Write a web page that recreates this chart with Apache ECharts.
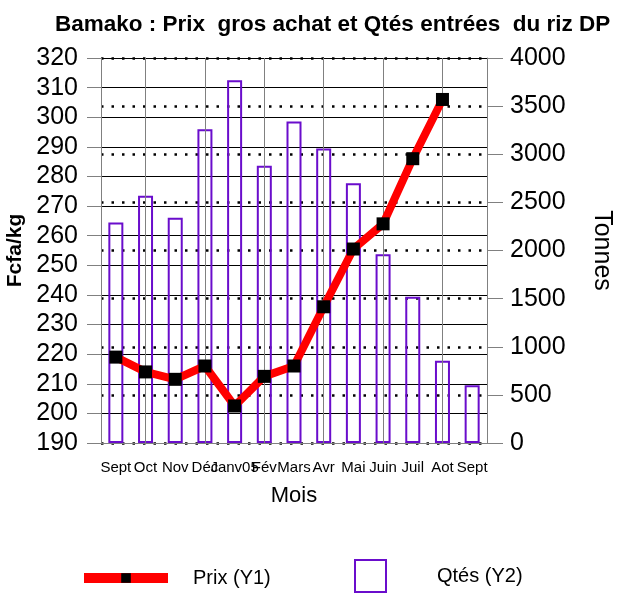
<!DOCTYPE html>
<html>
<head>
<meta charset="utf-8">
<script src="https://cdn.jsdelivr.net/npm/echarts@6/dist/echarts.min.js"></script>
<style>
  html, body { margin: 0; padding: 0; background: #fff; }
  #chart { width: 619px; height: 594px; }
</style>
</head>
<body>
<div id="chart"></div>
<script>
// mois (axe X), prix gros achat (Y1, Fcfa/kg), quantités entrées (Y2, tonnes)
const mois = ['Sept', 'Oct', 'Nov', 'Déc', 'Janv05', 'Fév', 'Mars', 'Avr', 'Mai', 'Juin', 'Juil', 'Aot', 'Sept']
const prix = [219, 214, 211.5, 216, 202.5, 212.5, 216, 236, 255.5, 264, 286, 306, null]
const qtes = [2290, 2570, 2340, 3260, 3770, 2880, 3340, 3060, 2700, 1960, 1520, 855, 600]

const prixMin = 190, prixMax = 320, prixStep = 10
const qtesMin = 0, qtesMax = 4000, qtesStep = 500

const font = "'Liberation Sans', Arial, sans-serif"

const chart = echarts.init(document.getElementById('chart'), null, { renderer: 'canvas' })

// lignes verticales grises sur les mois impairs
const vLines = mois.map((m, i) => i).filter(i => i % 2 === 1).map(i => ({ xAxis: i }))

chart.setOption({
  animation: false,
  backgroundColor: '#fff',
  textStyle: { fontFamily: font },
  title: {
    text: 'Bamako : Prix  gros achat et Qtés entrées  du riz DP',
    left: 50, top: 8,
    textStyle: { fontFamily: font, fontSize: 22.5, fontWeight: 'bold', color: '#000' },
  },
  grid: { left: 101, right: 132, top: 58, bottom: 151, outerBoundsMode: 'none' },
  legend: [
    {
      data: ['Prix (Y1)'], left: 74, top: 563, itemWidth: 84, itemHeight: 12,
      lineStyle: { width: 10, color: '#ff0000' },
      textStyle: { fontFamily: font, fontSize: 20, color: '#000', padding: [0, 0, 0, 20] },
    },
    {
      data: [{ name: 'Qtés (Y2)', icon: 'rect' }], left: 349, top: 554, itemWidth: 31, itemHeight: 32,
      textStyle: { fontFamily: font, fontSize: 20, color: '#000', padding: [0, 0, 0, 46] },
    },
  ],
  xAxis: {
    type: 'category', data: mois, boundaryGap: true,
    name: 'Mois', nameLocation: 'middle', nameGap: 42,
    nameTextStyle: { fontFamily: font, fontSize: 22, color: '#000' },
    axisLine: { lineStyle: { color: '#808080' } },
    axisTick: { alignWithLabel: true, interval: i => i % 2 === 0, length: 6, lineStyle: { color: '#808080' } },
    axisLabel: { interval: 0, color: '#000', fontFamily: font, fontSize: 15, margin: 17 },
    splitLine: { show: false },
  },
  yAxis: [
    {
      type: 'value', min: prixMin, max: prixMax, interval: prixStep, position: 'left',
      name: 'Fcfa/kg', nameLocation: 'middle', nameGap: 71,
      nameTextStyle: { fontFamily: font, fontSize: 21, fontWeight: 'bold', color: '#000' },
      axisLine: { show: true, lineStyle: { color: '#808080' } },
      axisTick: { show: true, length: 14, lineStyle: { color: '#808080' } },
      axisLabel: { color: '#000', fontFamily: font, fontSize: 25, margin: 23 },
      splitLine: { show: true, lineStyle: { color: '#000', width: 1 } },
    },
    {
      type: 'value', min: qtesMin, max: qtesMax, interval: qtesStep, position: 'right',
      name: 'Tonnes', nameLocation: 'middle', nameGap: 102, nameRotate: -90,
      nameTextStyle: { fontFamily: font, fontSize: 25, color: '#000' },
      axisLine: { show: true, lineStyle: { color: '#808080' } },
      axisTick: { show: true, length: 16, lineStyle: { color: '#808080' } },
      axisLabel: { color: '#000', fontFamily: font, fontSize: 25, margin: 23, formatter: v => String(v) },
      splitLine: { show: true, lineStyle: { color: '#000', width: 2.5, type: [2.5, 8] } },
    },
  ],
  series: [
    {
      name: 'Qtés (Y2)', type: 'bar', yAxisIndex: 1, data: qtes, barWidth: 15,
      itemStyle: { color: 'rgba(255,255,255,0)', borderColor: '#6a0dcc', borderWidth: 2 },
      markLine: {
        silent: true, symbol: 'none', label: { show: false },
        lineStyle: { color: '#808080', type: 'solid', width: 1 },
        data: vLines,
      },
      z: 2,
    },
    {
      name: 'Prix (Y1)', type: 'line', yAxisIndex: 0, data: prix,
      lineStyle: { color: '#ff0000', width: 8 },
      itemStyle: { color: '#000' },
      symbol: 'rect', symbolSize: 13, showAllSymbol: true,
      z: 5,
    },
  ],
})
</script>
</body>
</html>
